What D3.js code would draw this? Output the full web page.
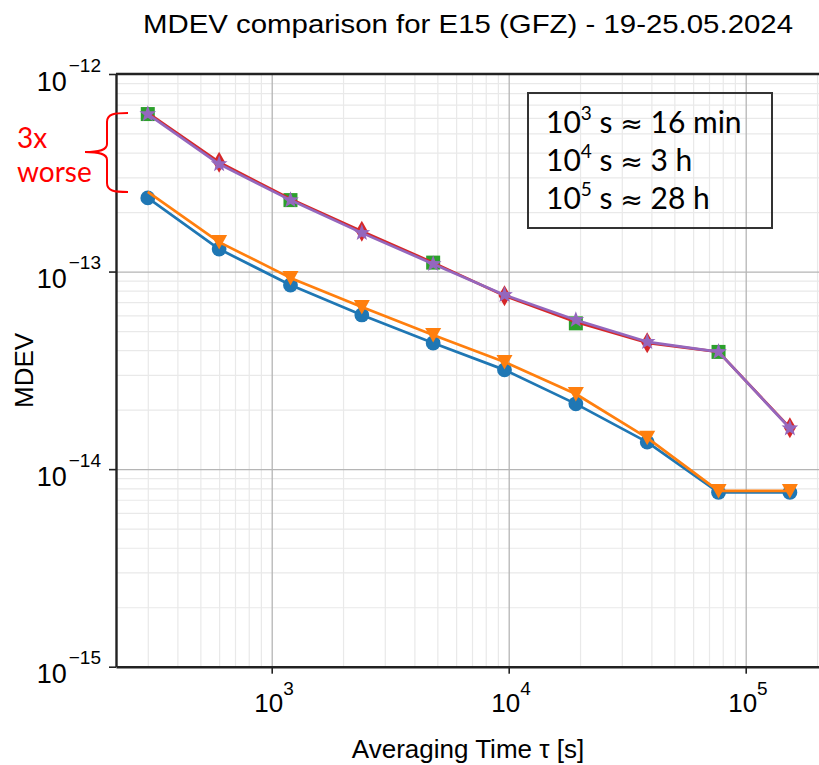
<!DOCTYPE html>
<html><head><meta charset="utf-8">
<script src="https://cdn.jsdelivr.net/npm/d3@7"></script>
<style>
html,body{margin:0;padding:0;background:#fff;}
svg{display:block;}
text{font-family:"Liberation Sans",Arial,sans-serif;}
</style></head>
<body>
<svg id="chart" width="819" height="765"></svg>
<script>
// ---- data ----
const tau = [300, 600, 1200, 2400, 4800, 9600, 19200, 38400, 76800, 153600];
const blueMdev   = [2.36e-13, 1.30e-13, 8.55e-14, 6.03e-14, 4.35e-14, 3.18e-14, 2.14e-14, 1.37e-14, 7.62e-15, 7.62e-15];
const orangeMdev = [2.53e-13, 1.41e-13, 9.29e-14, 6.62e-14, 4.78e-14, 3.49e-14, 2.40e-14, 1.44e-14, 7.76e-15, 7.76e-15];
const redMdev    = [6.35e-13, 3.58e-13, 2.33e-13, 1.60e-13, 1.11e-13, 7.55e-14, 5.56e-14, 4.36e-14, 3.92e-14, 1.62e-14];
const purpleMdev = [6.27e-13, 3.50e-13, 2.30e-13, 1.57e-13, 1.093e-13, 7.62e-14, 5.69e-14, 4.41e-14, 3.92e-14, 1.61e-14];
const orangeMarkerTau = [600, 1200, 2400, 4800, 9600, 19200, 38400, 76800, 153600];
const greenTau  = [300, 1200, 4800, 19200, 76800];
const greenMdev = [6.27e-13, 2.30e-13, 1.11e-13, 5.47e-14, 3.92e-14];
const redMarkerTau = [600, 2400, 9600, 38400, 153600];
const xMajorTicks = [1e3, 1e4, 1e5];
const xMajorExp = ["3", "4", "5"];
const yMajorTicks = [1e-15, 1e-14, 1e-13, 1e-12];
const yMajorExp = ["\u221215", "\u221214", "\u221213", "\u221212"];
const titleText = "MDEV comparison for E15 (GFZ) - 19-25.05.2024";
const xLabel = "Averaging Time \u03c4 [s]";
const yLabel = "MDEV";
const noteExp = ["3", "4", "5"];
const noteRest = ["16 min", "3 h", "28 h"];
const annotLines = ["3x", "worse"];

const colors = {blue:"#1f77b4", orange:"#ff7f0e", green:"#2ca02c", red:"#d62728", purple:"#9467bd"};

const svg = d3.select("#chart");
const L = 116, R = 820, T = 74, B = 666.7;
const x = d3.scaleLog().domain([Math.pow(10, 2.343), Math.pow(10, 5.3135)]).range([L, R]);
const y = d3.scaleLog().domain([1e-15, 1e-12]).range([B, T]);

// minor tick values
const xMinor = [], yMinor = [];
for (let e = 2; e <= 5; e++) for (let m = 2; m <= 9; m++) { const v = m * Math.pow(10, e); if (v > x.domain()[0] && v < x.domain()[1]) xMinor.push(v); }
for (let e = -15; e <= -13; e++) for (let m = 2; m <= 9; m++) yMinor.push(m * Math.pow(10, e));

// grid
const gMinor = svg.append("g");
gMinor.append("g").attr("transform", `translate(0,${B})`)
  .call(d3.axisBottom(x).tickValues(xMinor).tickSize(-(B - T)).tickFormat(""))
  .call(g => { g.select(".domain").remove(); g.selectAll("line").attr("stroke", "#e9e9e9").attr("stroke-width", 1.2); });
gMinor.append("g").attr("transform", `translate(${L},0)`)
  .call(d3.axisLeft(y).tickValues(yMinor).tickSize(-(R - L)).tickFormat(""))
  .call(g => { g.select(".domain").remove(); g.selectAll("line").attr("stroke", "#e9e9e9").attr("stroke-width", 1.2); });
const gMajor = svg.append("g");
gMajor.append("g").attr("transform", `translate(0,${B})`)
  .call(d3.axisBottom(x).tickValues(xMajorTicks).tickSize(-(B - T)).tickFormat(""))
  .call(g => { g.select(".domain").remove(); g.selectAll("line").attr("stroke", "#b5b5b5").attr("stroke-width", 1.3); });
gMajor.append("g").attr("transform", `translate(${L},0)`)
  .call(d3.axisLeft(y).tickValues(yMajorTicks.slice(1, 3)).tickSize(-(R - L)).tickFormat(""))
  .call(g => { g.select(".domain").remove(); g.selectAll("line").attr("stroke", "#b5b5b5").attr("stroke-width", 1.3); });

// series
const plot = svg.append("g");
function drawLine(vals, color) {
  plot.append("path").datum(tau.map((t, i) => [t, vals[i]]))
    .attr("fill", "none").attr("stroke", color).attr("stroke-width", 2.7).attr("stroke-linejoin", "round")
    .attr("d", d3.line().x(d => x(d[0])).y(d => y(d[1])));
}
function valAt(vals, t) { return vals[tau.indexOf(t)]; }
const triPath = "M-8,-7L8,-7L0,7.5z";
const diamondPath = "M0,-10.5L6,0L0,10.5L-6,0z";
function starPath(ro, ri) {
  let p = "";
  for (let k = 0; k < 10; k++) {
    const r = k % 2 ? ri : ro, a = -Math.PI / 2 + k * Math.PI / 5;
    p += (k ? "L" : "M") + (r * Math.cos(a)).toFixed(2) + "," + (r * Math.sin(a)).toFixed(2);
  }
  return p + "z";
}

drawLine(blueMdev, colors.blue);
plot.selectAll(".c").data(tau).join("circle")
  .attr("cx", d => x(d)).attr("cy", (d, i) => y(blueMdev[i])).attr("r", 7.4).attr("fill", colors.blue);

drawLine(orangeMdev, colors.orange);
plot.selectAll(".t").data(orangeMarkerTau).join("path")
  .attr("transform", d => `translate(${x(d)},${y(valAt(orangeMdev, d))})`).attr("d", triPath).attr("fill", colors.orange);

plot.selectAll(".s").data(greenTau).join("rect")
  .attr("x", d => x(d) - 7).attr("y", (d, i) => y(greenMdev[i]) - 7).attr("width", 14).attr("height", 14).attr("fill", colors.green);

drawLine(redMdev, colors.red);
plot.selectAll(".d").data(redMarkerTau).join("path")
  .attr("transform", d => `translate(${x(d)},${y(valAt(redMdev, d))})`).attr("d", diamondPath).attr("fill", colors.red);

drawLine(purpleMdev, colors.purple);
const sp = starPath(8.8, 3.6);
plot.selectAll(".p").data(tau).join("path")
  .attr("transform", (d, i) => `translate(${x(d)},${y(purpleMdev[i])})`).attr("d", sp).attr("fill", colors.purple);

// axes
const axColor = "#222";
const xAx = svg.append("g").attr("transform", `translate(0,${B})`);
xAx.call(d3.axisBottom(x).tickValues(xMinor).tickSize(4).tickFormat(""));
xAx.call(d3.axisBottom(x).tickValues(xMajorTicks).tickSize(7).tickSizeOuter(0).tickFormat(""));
xAx.selectAll("line").attr("stroke", axColor).attr("stroke-width", 1.6);
xAx.selectAll(".domain").attr("stroke", axColor).attr("stroke-width", 2.4);
xAx.selectAll(".tick").filter(d => xMajorTicks.includes(d)).each(function (d) {
  const i = xMajorTicks.indexOf(d);
  const t = d3.select(this).append("text").attr("x", -18).attr("y", 45).attr("fill", "#000")
    .attr("text-anchor", "start").style("font-size", "26px");
  t.append("tspan").text("10");
  t.append("tspan").attr("dy", -17).style("font-size", "19px").text(xMajorExp[i]);
});

const yAx = svg.append("g").attr("transform", `translate(${L},0)`);
yAx.call(d3.axisLeft(y).tickValues(yMinor).tickSize(4).tickFormat(""));
yAx.call(d3.axisLeft(y).tickValues(yMajorTicks).tickSize(7).tickSizeOuter(0).tickFormat(""));
yAx.selectAll("line").attr("stroke", axColor).attr("stroke-width", 1.6);
yAx.selectAll(".domain").attr("stroke", axColor).attr("stroke-width", 2.4);
yAx.selectAll(".tick").filter(d => yMajorTicks.includes(d)).each(function (d) {
  const i = yMajorTicks.indexOf(d);
  const t = d3.select(this).append("text").attr("x", -15).attr("y", 16).attr("fill", "#000")
    .attr("text-anchor", "end").style("font-size", "27px");
  t.append("tspan").text("10");
  t.append("tspan").attr("dx", 2).attr("dy", -19).style("font-size", "19px").text(yMajorExp[i]);
});
// top spine
svg.append("line").attr("x1", L).attr("x2", R).attr("y1", T).attr("y2", T).attr("stroke", axColor).attr("stroke-width", 2.4);

// titles
svg.append("text").attr("x", 143).attr("y", 33).attr("textLength", 650).attr("lengthAdjust", "spacingAndGlyphs")
  .style("font-size", "26px").attr("fill", "#000").text(titleText);
svg.append("text").attr("x", (L + R) / 2).attr("y", 758).attr("text-anchor", "middle").style("font-size", "26px").attr("fill", "#000").text(xLabel);
svg.append("text").attr("transform", `translate(33,${(T + B) / 2}) rotate(-90)`).attr("text-anchor", "middle")
  .style("font-size", "26px").attr("fill", "#000").text(yLabel);

// note box
svg.append("rect").attr("x", 528).attr("y", 93).attr("width", 244).attr("height", 135)
  .attr("fill", "none").attr("stroke", "#333").attr("stroke-width", 2);
const noteY = [133, 171, 209];
noteExp.forEach((ex, i) => {
  const t = svg.append("text").attr("x", 546).attr("y", noteY[i]).attr("fill", "#000")
    .style("font-family", "Lato, 'Open Sans', sans-serif").style("font-size", "30px");
  t.append("tspan").text("10");
  t.append("tspan").attr("dy", -13).style("font-size", "19px").text(ex);
  t.append("tspan").attr("dy", 13).text(" s ");
  t.append("tspan").style("font-family", "'DejaVu Sans', sans-serif").style("font-size", "27px").text("\u2248");
  t.append("tspan").text(" " + noteRest[i]);
});

// annotation
svg.append("text").attr("x", 17).attr("y", 148).attr("fill", "#ff0000")
  .style("font-family", "Lato, 'Open Sans', sans-serif").style("font-size", "28px").text(annotLines[0]);
svg.append("text").attr("x", 17).attr("y", 182).attr("fill", "#ff0000")
  .style("font-family", "Lato, 'Open Sans', sans-serif").style("font-size", "28px").text(annotLines[1]);
svg.append("path")
  .attr("d", "M128,113 C114,113 107,114 107,122 L107,144 C107,150 100,152 85,152 C100,152 107,154 107,160 L107,183 C107,191 114,192 128,192")
  .attr("fill", "none").attr("stroke", "#ff0000").attr("stroke-width", 2);
</script>
</body></html>
